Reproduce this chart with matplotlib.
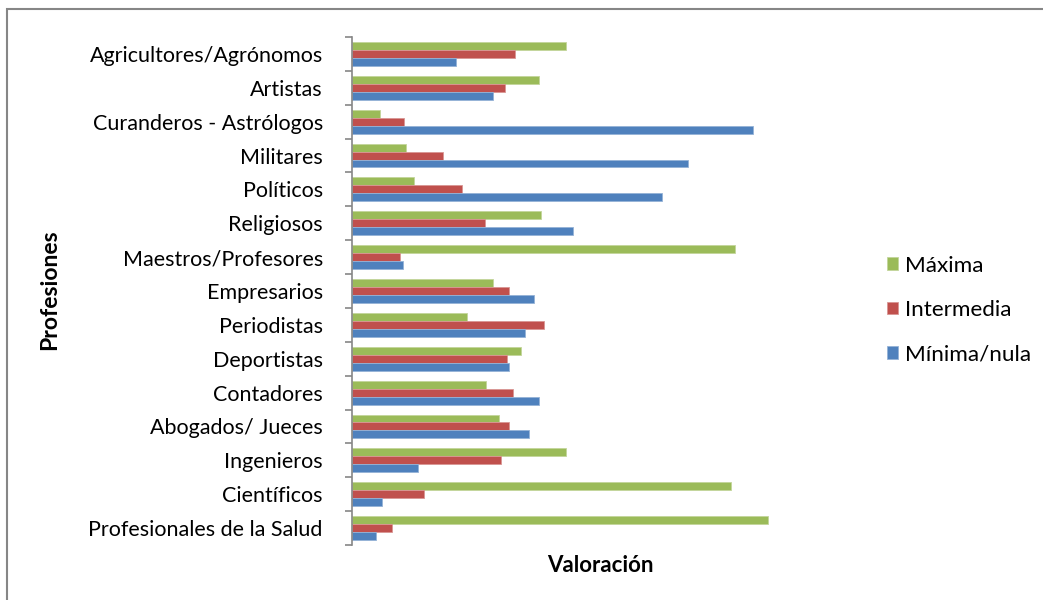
import matplotlib
matplotlib.use("Agg")
import matplotlib.pyplot as plt
import numpy as np
from matplotlib.patches import Rectangle

categories = ["Agricultores/Agrónomos", "Artistas", "Curanderos - Astrólogos", "Militares",
              "Políticos", "Religiosos", "Maestros/Profesores", "Empresarios", "Periodistas",
              "Deportistas", "Contadores", "Abogados/ Jueces", "Ingenieros", "Científicos",
              "Profesionales de la Salud"]
maxima = [214, 187, 28, 54, 62, 189, 383, 141, 115, 169, 134, 147, 214, 379, 416]
intermedia = [163, 153, 52, 91, 110, 133, 48, 157, 192, 155, 161, 157, 149, 72, 40]
minima = [104, 141, 401, 336, 310, 221, 51, 182, 173, 157, 187, 177, 66, 30, 24]
series_names = ["Máxima", "Intermedia", "Mínima/nula"]
colors = ["#9BBB59", "#C0504D", "#4F81BD"]
edge_colors = ["#C3D69B", "#D99694", "#95B3D7"]

plt.rcParams['font.family'] = ['Lato', 'DejaVu Sans']

W, H = 1043, 600
fig = plt.figure(figsize=(W/100, H/100), dpi=100)
ax = fig.add_axes([352/W, 1-545/H, 440/W, 508/H])

n = len(categories)
y = np.arange(n)
h = 0.235
for i, (vals, c, ec, name) in enumerate(zip([maxima, intermedia, minima], colors, edge_colors, series_names)):
    ax.barh(y + (i-1)*h, vals, height=h, color=c, edgecolor=ec, linewidth=0.6, label=name)

ax.set_ylim(n-0.5, -0.5)
ax.set_xlim(0, 440)
ax.set_yticks(y)
ax.set_yticklabels(categories, fontsize=15.5, color="#000000")
ax.set_yticks(np.arange(n+1)-0.5, minor=True)
ax.tick_params(axis='y', which='major', length=0, pad=21)
ax.tick_params(axis='y', which='minor', length=5, color="#868686", width=1.2, direction='out')
ax.set_xticks([])
for s in ['top', 'right', 'bottom']:
    ax.spines[s].set_visible(False)
ax.spines['left'].set_color("#868686")
ax.spines['left'].set_linewidth(1.2)

fig.text(50/W, 1-290/H, "Profesiones", rotation=90, ha='center', va='center',
         fontsize=16.5, fontweight='bold')
fig.text(600/W, 1-566/H, "Valoración", ha='center', va='center',
         fontsize=16, fontweight='bold')

leg = fig.legend(loc='center left', bbox_to_anchor=(887/W, 1-310/H), frameon=False,
                 fontsize=16.2, labelspacing=1.08, handlelength=0.5, handleheight=0.5,
                 handletextpad=0.3, borderpad=0, borderaxespad=0)

fig.patches.append(Rectangle((7/W, -0.1), 1.1, 1-9/H+0.1, transform=fig.transFigure,
                             fill=False, edgecolor="#868686", linewidth=1.5))

fig.savefig("out.png", dpi=100)
